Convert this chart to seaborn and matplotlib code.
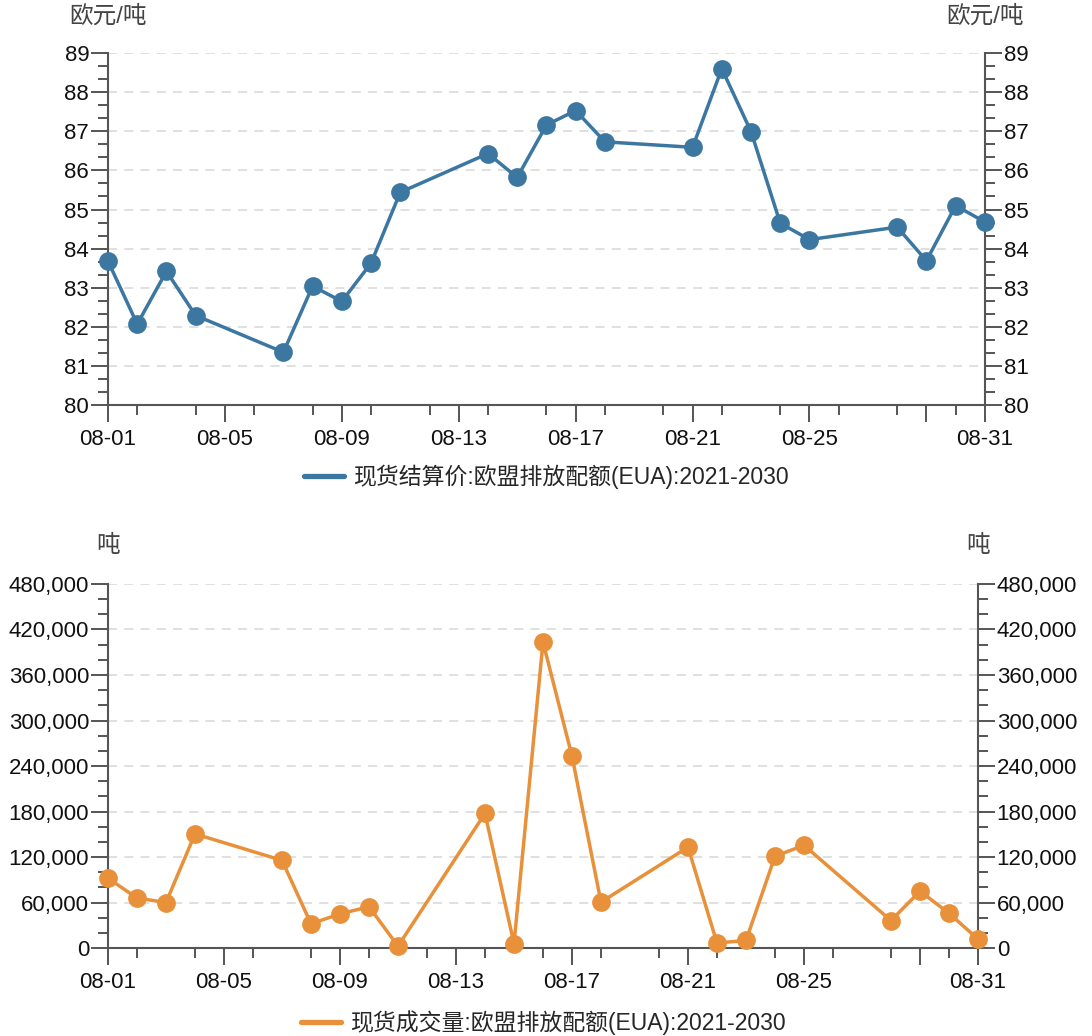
import pandas as pd
import numpy as np
import matplotlib
matplotlib.use("Agg")
import matplotlib.pyplot as plt
import matplotlib.dates as mdates
from matplotlib.ticker import FuncFormatter, MultipleLocator
import seaborn as sns

# data
days = [1, 2, 3, 4, 7, 8, 9, 10, 11, 14, 15, 16, 17, 18, 21, 22, 23, 24, 25, 28, 29, 30, 31]
price = [83.68, 82.07, 83.42, 82.29, 81.35, 83.04, 82.65, 83.63, 85.44, 86.43, 85.82, 87.16,
         87.53, 86.73, 86.59, 88.60, 86.99, 84.65, 84.23, 84.55, 83.69, 85.10, 84.68]
volume = [92000, 66000, 60000, 150500, 115600, 32000, 45000, 54500, 2500, 177500, 5700, 403500,
          253000, 60500, 133000, 6600, 10000, 121000, 135500, 36200, 75000, 45800, 11800]
price_label = "现货结算价:欧盟排放配额(EUA):2021-2030"
volume_label = "现货成交量:欧盟排放配额(EUA):2021-2030"

dates = pd.to_datetime(["2023-08-%02d" % d for d in days])
df = pd.DataFrame({"date": dates, "price": price, "volume": volume})

sns.set_style("ticks")
plt.rcParams["font.family"] = ["Liberation Sans", "Noto Sans CJK SC", "DejaVu Sans"]

blue = "#3b77a0"
orange = "#e8903a"
spine_c = "#555555"

fig = plt.figure(figsize=(10.92, 10.36), dpi=100)
ax1 = fig.add_axes([0.0989, 0.609, 0.803, 0.3398])
ax2 = fig.add_axes([0.0989, 0.0849, 0.7967, 0.3514])

major_days = [1, 5, 9, 13, 17, 21, 25, 29, 31]
minor_days = [2, 4, 6, 8, 10, 12, 14, 16, 18, 20, 22, 24, 26, 28, 30]
major_dates = pd.to_datetime(["2023-08-%02d" % d for d in major_days])
minor_dates = pd.to_datetime(["2023-08-%02d" % d for d in minor_days])
major_labels = ["08-%02d" % d if d != 29 else "" for d in major_days]


def style_axis(ax, col, label, unit, ylim, ystep, yminor, fmt):
    sns.lineplot(data=df, x="date", y=col, ax=ax, color=label[1], marker="o",
                 markersize=13.5, linewidth=2.5, markeredgewidth=0, label=label[0],
                 clip_on=False, zorder=3)
    ax.set_xlim(pd.Timestamp("2023-08-01"), pd.Timestamp("2023-08-31"))
    ax.set_ylim(*ylim)
    ax.set_xticks(major_dates)
    ax.set_xticklabels(major_labels)
    ax.set_xticks(minor_dates, minor=True)
    ax.yaxis.set_major_locator(MultipleLocator(ystep))
    ax.yaxis.set_minor_locator(MultipleLocator(yminor))
    ax.yaxis.set_major_formatter(FuncFormatter(fmt))
    ax.set_xlabel("")
    ax.set_ylabel("")
    ax.grid(axis="y", which="major", color="#dddddd", linestyle=(0, (5, 4)), linewidth=1.3)
    ax.set_axisbelow(True)
    for s in ["left", "right", "bottom"]:
        ax.spines[s].set_visible(True)
        ax.spines[s].set_color(spine_c)
        ax.spines[s].set_linewidth(1.5)
    ax.spines["top"].set_visible(False)
    ax.tick_params(axis="both", which="major", labelsize=16, length=12, width=1.4,
                   color=spine_c, labelcolor="#111111", direction="out", pad=1.5)
    ax.tick_params(axis="both", which="minor", length=7, width=1.4, color=spine_c,
                   direction="out")
    ax.tick_params(axis="y", which="both", left=True, right=True, labelleft=True,
                   labelright=True)
    ax.tick_params(axis="x", which="major", pad=5)
    ax.text(0, 1.105, unit, transform=ax.transAxes, ha="center", va="center",
            fontsize=17, color="#444444")
    ax.text(1, 1.105, unit, transform=ax.transAxes, ha="center", va="center",
            fontsize=17, color="#444444")
    leg = ax.legend(loc="center", bbox_to_anchor=(0.5, -0.205), frameon=False,
                    fontsize=16.5, handlelength=1.75, handletextpad=0.4)
    for h in leg.legend_handles:
        h.set_marker("")
        h.set_linewidth(3.8)


style_axis(ax1, "price", (price_label, blue), "欧元/吨", (80, 89), 1, 1 / 3,
           lambda v, p: "%d" % round(v))
style_axis(ax2, "volume", (volume_label, orange), "吨", (0, 480000), 60000, 20000,
           lambda v, p: "{:,.0f}".format(v))

fig.savefig("out.png", dpi=100, facecolor="white")
